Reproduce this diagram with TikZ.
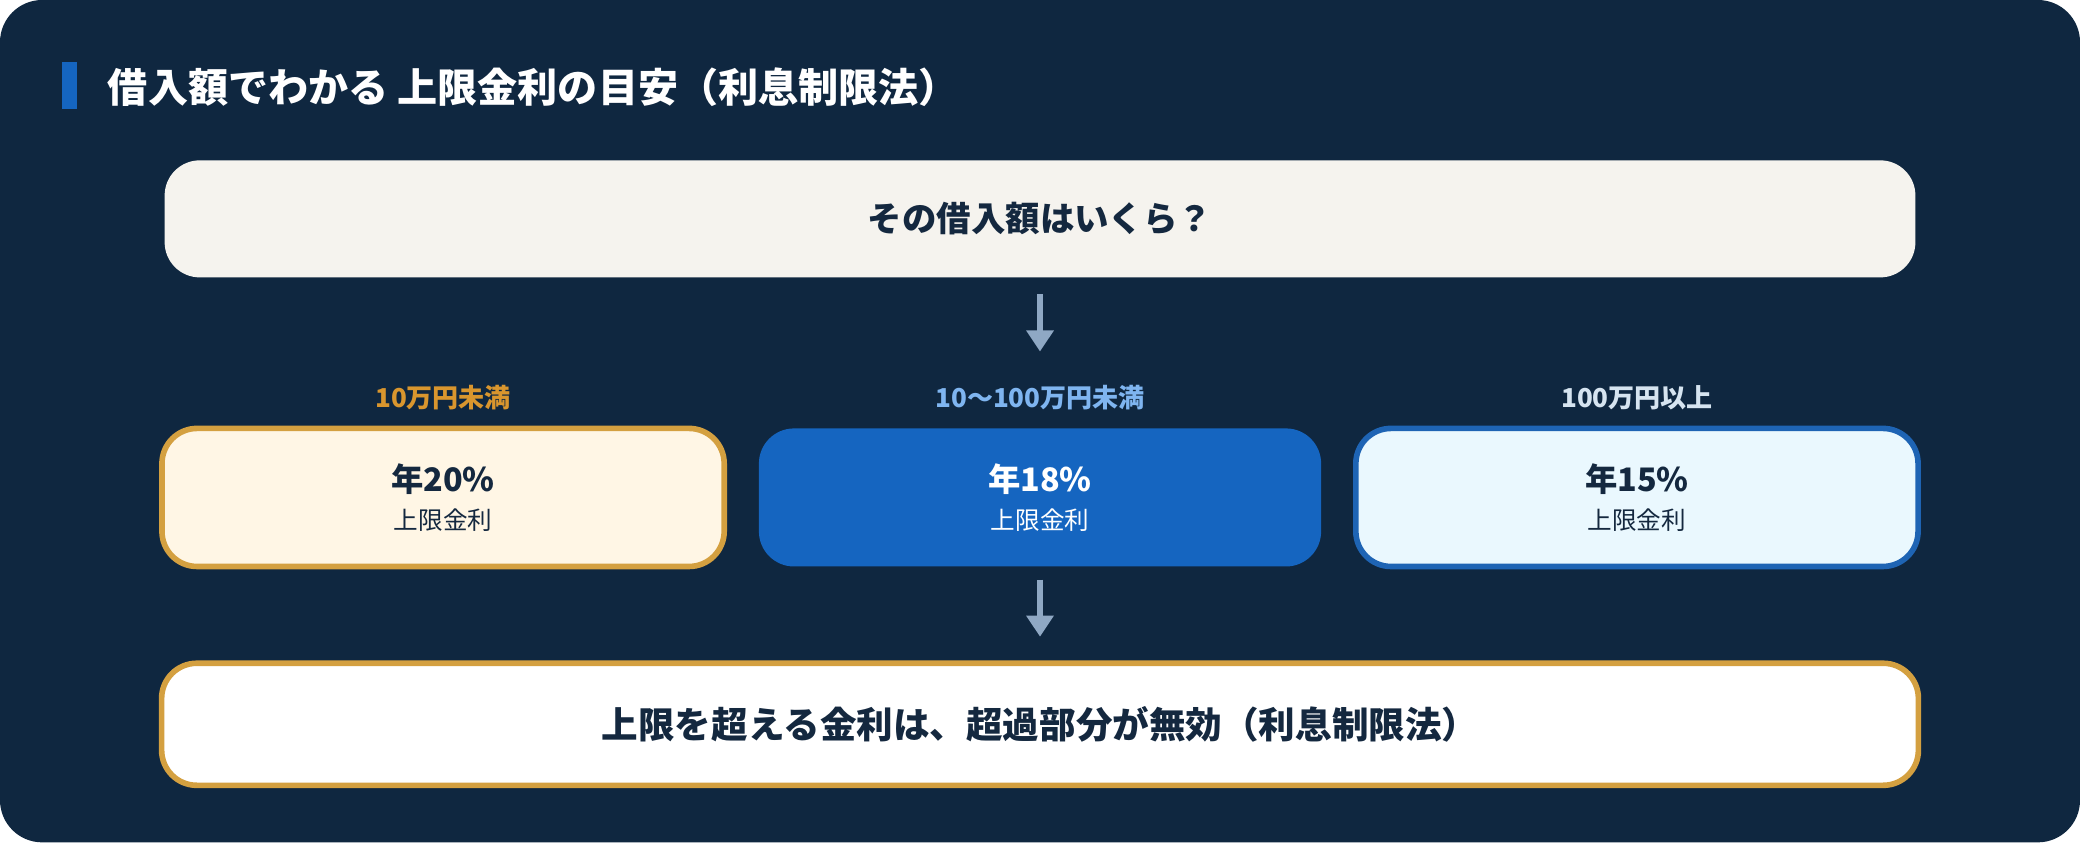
\documentclass[tikz,border=0pt]{standalone}
\usepackage{fontspec}
\setmainfont{Noto Sans CJK JP}
\usetikzlibrary{arrows.meta}
\definecolor{navy}{HTML}{0F2740}
\definecolor{ink}{HTML}{14283F}
\definecolor{gold}{HTML}{D4A040}
\definecolor{goldtxt}{HTML}{D9962E}
\definecolor{bluebox}{HTML}{1565C0}
\definecolor{arrowc}{HTML}{8FA8C4}
\tikzset{
 box/.style={rounded corners=10pt,line width=1.6pt,minimum height=1.38cm,minimum width=5.62cm,align=center,text=ink},
 lab/.style={font=\bfseries\fontsize{7.4pt}{9pt}\selectfont},
 arr/.style={draw=arrowc,line width=1.6pt,-{Triangle[width=7.5pt,length=6pt]}},
}
\begin{document}
\begin{tikzpicture}[x=0.013265cm,y=-0.013265cm]
\useasboundingbox (0,0) rectangle (1568,635);
\fill[white] (0,0) rectangle (1568,635);
\fill[navy,rounded corners=12pt] (0,0) rectangle (1568,635);
\fill[bluebox] (47,47) rectangle (58,82);
\node[anchor=west,text=white,font=\bfseries\fontsize{11.4pt}{13pt}\selectfont] (title) at (72,66) {借入額でわかる 上限金利の目安（利息制限法）};
\node[box,draw=none,fill=white!70!yellow!10!white,fill={rgb,255:red,245;green,243;blue,238},minimum width=17.5cm,minimum height=1.17cm,font=\bfseries\fontsize{9.8pt}{12pt}\selectfont] (top) at (784,165) {その借入額はいくら？};
\coordinate (a1s) at (784,222); \coordinate (a1e) at (784,265);
\draw[arr] (a1s) -- (a1e);
\node[lab,text=goldtxt] (l1) at (334,300) {10万円未満};
\node[lab,text={rgb,255:red,127;green,181;blue,240}] (l2) at (784,300) {10〜100万円未満};
\node[lab,text={rgb,255:red,214;green,228;blue,240}] (l3) at (1234,300) {100万円以上};
\node[box,draw=gold,fill={rgb,255:red,255;green,246;blue,229}] (b1) at (334,375) {{\bfseries\fontsize{9.2pt}{11pt}\selectfont 年20\%}\\[-1pt]{\fontsize{7pt}{9pt}\selectfont 上限金利}};
\node[box,draw=none,fill=bluebox,text=white] (b2) at (784,375) {{\bfseries\fontsize{9.2pt}{11pt}\selectfont 年18\%}\\[-1pt]{\fontsize{7pt}{9pt}\selectfont 上限金利}};
\node[box,draw={rgb,255:red,30;green,100;blue,180},fill={rgb,255:red,234;green,248;blue,254}] (b3) at (1234,375) {{\bfseries\fontsize{9.2pt}{11pt}\selectfont 年15\%}\\[-1pt]{\fontsize{7pt}{9pt}\selectfont 上限金利}};
\coordinate (a2s) at (784,437); \coordinate (a2e) at (784,480);
\draw[arr] (a2s) -- (a2e);
\node[box,draw=gold,fill=white,minimum width=17.56cm,minimum height=1.22cm,font=\bfseries\fontsize{10.4pt}{12pt}\selectfont] (bot) at (784,546) {上限を超える金利は、超過部分が無効（利息制限法）};
\end{tikzpicture}
\end{document}
